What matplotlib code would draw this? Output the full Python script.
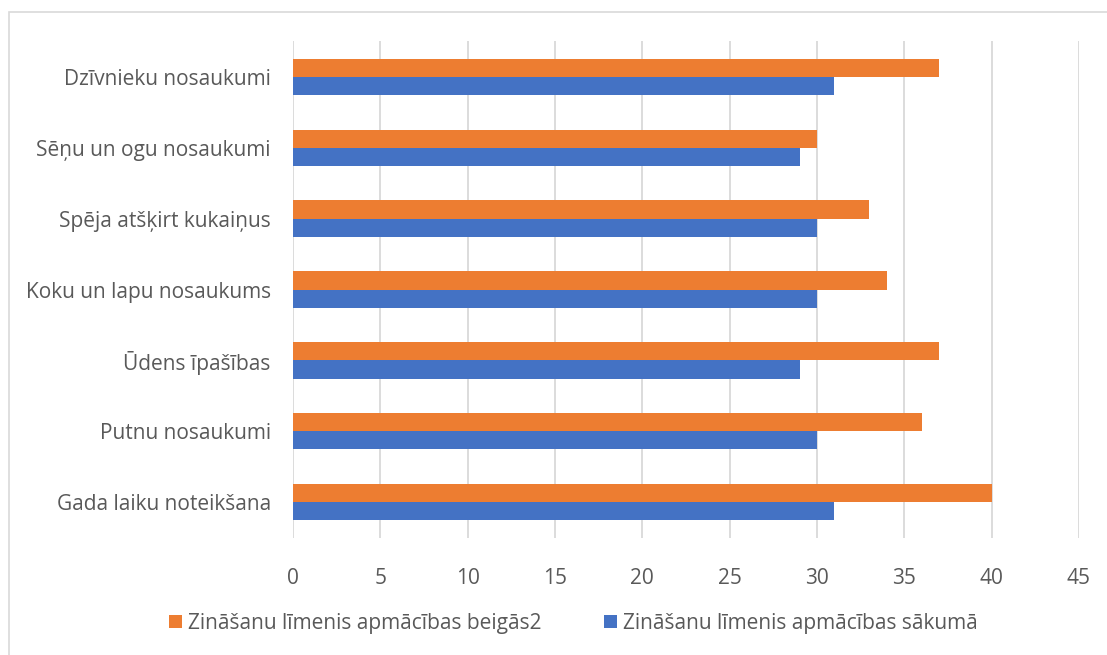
import matplotlib.pyplot as plt
import matplotlib.patches as mpatches
import numpy as np

# categories, bottom to top
categories = [
    "Gada laiku noteikšana",
    "Putnu nosaukumi",
    "Ūdens īpašības",
    "Koku un lapu nosaukums",
    "Spēja atšķirt kukaiņus",
    "Sēņu un ogu nosaukumi",
    "Dzīvnieku nosaukumi",
]
start_vals = [31, 30, 29, 30, 30, 29, 31]
end_vals = [40, 36, 37, 34, 33, 30, 37]
label_start = "Zināšanu līmenis apmācības sākumā"
label_end = "Zināšanu līmenis apmācības beigās2"
xticks = [0, 5, 10, 15, 20, 25, 30, 35, 40, 45]

plt.rcParams['font.family'] = ['Open Sans', 'DejaVu Sans']
text_col = "#595959"

fig = plt.figure(figsize=(11.07, 6.55), dpi=100)
ax = fig.add_axes([0.2647, 0.179, 0.71, 0.758])

y = np.arange(len(categories))
h = 0.255
ax.barh(y + h / 2, end_vals, h, color="#ED7D31", label=label_end)
ax.barh(y - h / 2, start_vals, h, color="#4472C4", label=label_start)

ax.set_xlim(0, 45)
ax.set_ylim(-0.5, 6.5)
ax.set_xticks(xticks)
ax.set_yticks(y)
ax.set_yticklabels(categories)
ax.tick_params(axis='both', length=0, colors=text_col, labelsize=15)
ax.tick_params(axis='x', pad=22)
ax.tick_params(axis='y', pad=16)
ax.grid(axis='x', color="#D9D9D9", linewidth=1.3)
ax.set_axisbelow(True)
for s in ax.spines.values():
    s.set_visible(False)

fig.legend(loc='center', bbox_to_anchor=(0.518, 0.048), ncol=2, frameon=False,
           fontsize=15, labelcolor=text_col, handlelength=0.6, handleheight=0.6,
           columnspacing=3.0, handletextpad=0.3)

# chart border
fig.patches.append(mpatches.Rectangle((0.008, -0.01), 1.1, 0.992, transform=fig.transFigure,
                                      fill=False, edgecolor="#D9D9D9", linewidth=1.2))

fig.savefig("out.png", dpi=100)
